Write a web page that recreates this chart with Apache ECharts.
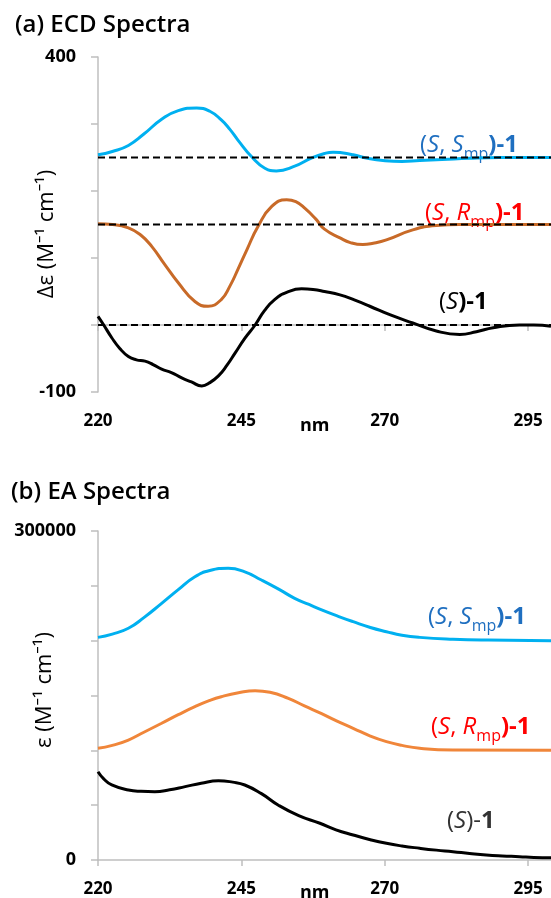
<!DOCTYPE html>
<html>
<head>
    <meta charset="utf-8">
    <title>ECD / EA Spectra</title>
    <script src="https://cdn.jsdelivr.net/npm/echarts@6/dist/echarts.min.js"></script>
    <style>
        html, body { margin: 0; padding: 0; background: #fff; }
    </style>
</head>
<body>
    <div id="main" style="width:551px;height:898px;"></div>
    <script type="text/javascript">
// x ticks shared by both panels (nm)
var xTicks = [220, 245, 270, 295];
var ecdLabelTicks = [-100, 400];
var eaLabelTicks = [0, 300000];

// (a) ECD spectra, offset curves [nm, delta eps]
var ecdSSmp = [[220,254],[222.5,259],[225.3,268],[228,285],[231.1,307],[234,320],[237.2,324],[239.5,319],
    [241.5,306],[243,292],[244.4,276],[246.8,251],[249.1,234],[251.1,230],[254.3,237],[257.2,249],[259.5,256],
    [261,258],[262.5,257],[264.5,254],[267,249],[269.7,245.5],[273,244],[276.1,245.5],[280,247],[284.8,249],
    [290,250],[299,250]];
var ecdSRmp = [[220,151],[222.5,150],[225.3,145],[227.5,134],[229.4,117],[231.5,92],[234,63],[236.9,35],
    [239.2,28],[241.5,38],[243,58],[244.4,83],[246,113],[247.9,147],[250.3,177],[252.9,187],[254.5,184],
    [256.1,174],[258,158],[259.5,143],[262.2,130],[264,123],[266.2,120],[268,122],[270.3,127],[274.9,142],
    [279,148.5],[283,150],[299,150]];
var ecdS = [[220,13],[221,0],[222.4,-19],[223.8,-35],[225.3,-47],[226.7,-52],[228.2,-54],[229.6,-59],
    [231.1,-66],[232.8,-71],[234.6,-79],[236.3,-85],[238.1,-91],[239.5,-86],[241,-76],[242.5,-60],[243.9,-42],
    [245.6,-20],[247.4,0],[249,21],[250.8,38],[253,49],[255.5,54],[257.5,53],[259.5,50],[262.2,45],[264.8,37],
    [267.4,28],[271,15],[274.9,3],[279,-9],[283.1,-14],[286,-10],[288.9,-4],[293.5,0],[296,0],[299,-2]];
var ecdBaselines = [250, 150, 0];

// (b) EA spectra [nm, eps]
var eaSSmp = [[220,203000],[222.5,206000],[225.3,211300],[228,221000],[231.1,234000],[234,246500],
    [236.9,258300],[239.5,264000],[242.7,266000],[245.5,263000],[248.5,255300],[251.5,247000],[254.3,238600],
    [256.8,233000],[259,228000],[262,222000],[264.5,217300],[267.5,212000],[270.3,208200],[273,205000],
    [276.1,203000],[281.9,201300],[288,200500],[299,200000]];
var eaSRmp = [[220,101900],[222.5,104500],[225.3,109400],[228,116500],[231.1,124700],[234,132500],
    [236.9,139800],[239.5,145500],[241.5,148900],[244.5,152500],[247.4,154400],[250,153000],[253.2,147400],
    [256,140500],[259,133500],[261.5,127000],[264.5,120100],[267.5,113000],[270.3,107900],[273,104500],
    [276.1,101900],[281.9,100300],[299,100000]];
var eaS = [[220,80500],[221,74000],[222.4,68400],[225.3,63800],[227.5,62600],[229.9,62300],[232.5,64000],
    [235.2,66900],[238,70000],[241,72300],[243.5,71000],[245.6,68400],[248.5,60500],[251.4,50200],[255,40500],
    [258.7,33500],[261.5,27500],[264.5,22800],[267.5,18500],[270.3,15200],[273,12800],[276.1,10700],[279,9000],
    [281.9,7600],[284.8,6000],[287.7,4600],[290.5,3700],[293.5,3000],[296,2300],[299,2000]];

var FONT = '"Open Sans", "Noto Sans", sans-serif';
var axisGray = '#BFBFBF';

function xAxisFor(gridIndex) {
    return {
        type: 'value', gridIndex: gridIndex, min: 220, max: 299,
        axisLine: { lineStyle: { color: axisGray, width: 1.5 } },
        axisTick: { customValues: xTicks, length: 6, lineStyle: { color: axisGray, width: 1.5 } },
        axisLabel: { customValues: xTicks, color: '#000', fontFamily: FONT, fontWeight: 'bold', fontSize: 17, margin: 21 },
        splitLine: { show: false }
    };
}

function yAxisFor(gridIndex, min, max, step, labels) {
    return {
        type: 'value', gridIndex: gridIndex, min: min, max: max, interval: step,
        axisLine: { show: true, lineStyle: { color: axisGray, width: 1.5 } },
        axisTick: { show: true, length: 7, lineStyle: { color: axisGray, width: 1.5 } },
        axisLabel: {
            customValues: labels, color: '#000', fontFamily: FONT, fontWeight: 'bold', fontSize: 18, margin: 22,
            formatter: function (v) { return String(v); }
        },
        splitLine: { show: false }
    };
}

function curve(name, data, color, gi) {
    return {
        name: name, type: 'line', xAxisIndex: gi, yAxisIndex: gi, data: data,
        smooth: 0.5, showSymbol: false, lineStyle: { color: color, width: 3 }
    };
}

var series = [
    curve('(S,Smp)-1 ECD', ecdSSmp, '#00B0F0', 0),
    curve('(S,Rmp)-1 ECD', ecdSRmp, '#C86A28', 0),
    curve('(S)-1 ECD', ecdS, '#000000', 0),
    curve('(S,Smp)-1 EA', eaSSmp, '#00B0F0', 1),
    curve('(S,Rmp)-1 EA', eaSRmp, '#F0863A', 1),
    curve('(S)-1 EA', eaS, '#000000', 1)
];
ecdBaselines.forEach(function (b) {
    series.push({
        type: 'line', xAxisIndex: 0, yAxisIndex: 0, data: [[220, b], [299, b]],
        showSymbol: false, silent: true,
        lineStyle: { color: '#000', width: 1.8, type: [7, 4] }
    });
});

var rich = {
    p: { fontFamily: FONT, fontSize: 24, lineHeight: 30, verticalAlign: 'middle' },
    i: { fontFamily: FONT, fontSize: 24, fontStyle: 'italic', lineHeight: 30, verticalAlign: 'middle' },
    b: { fontFamily: FONT, fontSize: 24, fontWeight: 'bold', lineHeight: 30, verticalAlign: 'middle' },
    sub: { fontFamily: FONT, fontSize: 16, lineHeight: 34, verticalAlign: 'bottom' }
};
function tag(text, x, y, color) {
    return {
        type: 'text', x: x, y: y, silent: true,
        style: { text: text, fill: color, rich: rich, align: 'left', verticalAlign: 'middle' }
    };
}
function yName(text, x, y) {
    return {
        type: 'text', x: x, y: y, rotation: Math.PI / 2, silent: true,
        style: { text: text, font: '22px ' + FONT, fill: '#000', align: 'center', verticalAlign: 'middle' }
    };
}
var sSmp = '{p|(}{i|S}{p|, }{i|S}{sub|mp}{b|)-1}';
var sRmp = '{p|(}{i|S}{p|, }{i|R}{sub|mp}{b|)-1}';

var myChart = echarts.init(document.getElementById('main'));
var option = {
    animation: false,
    title: [
        { text: '(a) ECD Spectra', left: 10, top: 8, textStyle: { fontFamily: FONT, fontSize: 24, fontWeight: 600, color: '#000' } },
        { text: '(b) EA Spectra', left: 6, top: 475, textStyle: { fontFamily: FONT, fontSize: 24, fontWeight: 600, color: '#000' } }
    ],
    grid: [
        { left: 98, right: 0, top: 57, bottom: 506 },
        { left: 98, right: 0, top: 531, bottom: 38 }
    ],
    xAxis: [xAxisFor(0), xAxisFor(1)],
    yAxis: [
        yAxisFor(0, -100, 400, 100, ecdLabelTicks),
        yAxisFor(1, 0, 300000, 50000, eaLabelTicks)
    ],
    series: series,
    graphic: [
        yName('Δε (M⁻¹ cm⁻¹)', 47, 234),
        yName('ε (M⁻¹ cm⁻¹)', 45, 690),
        { type: 'text', x: 300, y: 426, silent: true, style: { text: 'nm', font: 'bold 18px ' + FONT, fill: '#000', verticalAlign: 'middle' } },
        { type: 'text', x: 300, y: 893, silent: true, style: { text: 'nm', font: 'bold 18px ' + FONT, fill: '#000', verticalAlign: 'middle' } },
        tag(sSmp, 420, 145, '#1F6FC0'),
        tag(sRmp, 425, 213, '#FF0000'),
        { type: 'text', x: 439, y: 302, silent: true, style: { text: '{p|(}{i|S}{b|)-1}', rich: rich, fill: '#000', verticalAlign: 'middle' } },
        tag(sSmp, 428, 617, '#1F6FC0'),
        tag(sRmp, 431, 727, '#FF0000'),
        { type: 'text', x: 447, y: 821, silent: true, style: { text: '{p|(}{i|S}{p|)-}{b|1}', rich: rich, fill: '#333', verticalAlign: 'middle' } }
    ]
};
myChart.setOption(option);
    </script>
</body>
</html>
